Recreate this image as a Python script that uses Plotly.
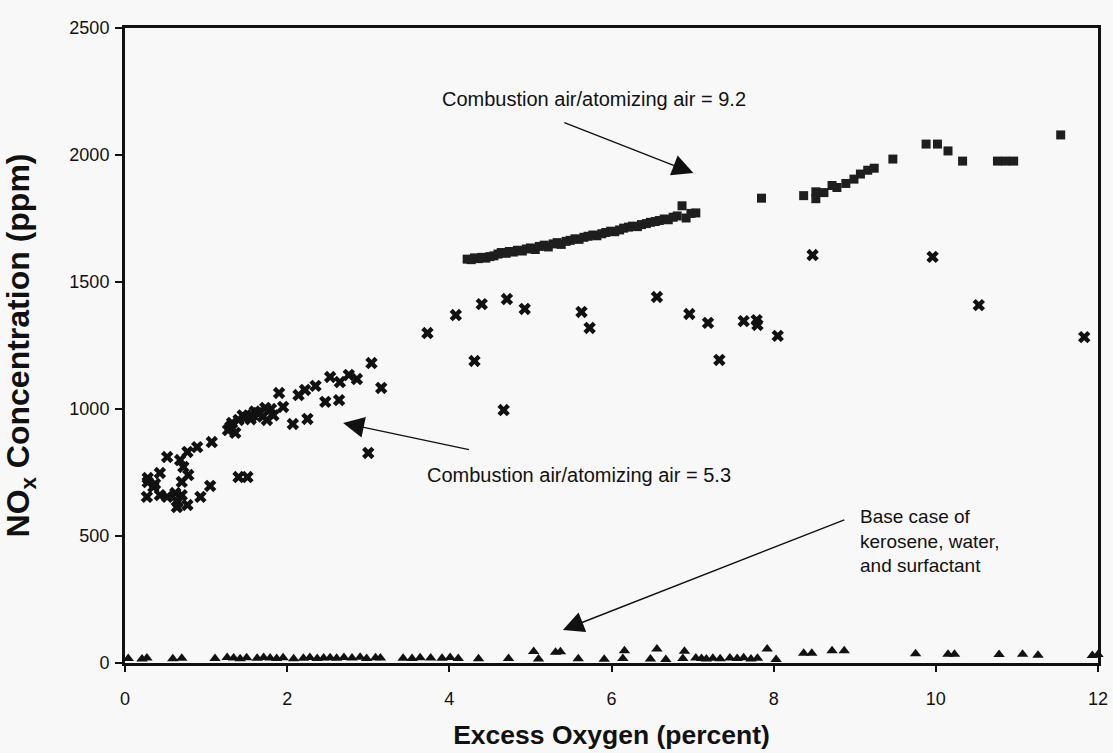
import plotly.graph_objects as go

# ---- data: combustion air / atomizing air = 9.2 (squares)
sq_x = [4.22, 4.27, 4.31, 4.36, 4.40, 4.45, 4.50, 4.55, 4.60, 4.64, 4.70, 4.74, 4.79, 4.84,
        4.90, 4.95, 5.00, 5.06, 5.11, 5.17, 5.22, 5.28, 5.33, 5.38, 5.44, 5.49, 5.55, 5.60,
        5.66, 5.71, 5.77, 5.82, 5.88, 5.93, 5.99, 6.04, 6.10, 6.15, 6.21, 6.26, 6.32, 6.37,
        6.43, 6.48, 6.54, 6.59, 6.65, 6.70, 6.76, 6.81, 6.87, 6.92, 6.98, 7.04,
        7.85, 8.37, 8.52, 8.52, 8.62, 8.72, 8.78, 8.89, 8.99, 9.07, 9.16, 9.24, 9.47,
        9.88, 10.02, 10.15, 10.33, 10.76, 10.86, 10.96, 11.54]
sq_y = [1590, 1588, 1595, 1592, 1597, 1594, 1600, 1603, 1610, 1616, 1613, 1620, 1618, 1625,
        1622, 1630, 1634, 1628, 1640, 1645, 1638, 1650, 1655, 1648, 1660, 1664, 1670, 1668,
        1676, 1680, 1685, 1682, 1690, 1695, 1700, 1698, 1705, 1712, 1716, 1720, 1718, 1726,
        1730, 1735, 1738, 1742, 1748, 1745, 1755, 1760, 1800, 1752, 1770, 1772,
        1830, 1840, 1855, 1828, 1852, 1880, 1872, 1888, 1905, 1925, 1940, 1948, 1984,
        2043, 2043, 2016, 1976, 1976, 1976, 1976, 2079]

# ---- data: combustion air / atomizing air = 5.3 (x marks)
xm_x = [0.27, 0.28, 0.28, 0.35, 0.37, 0.43, 0.43, 0.52, 0.52, 0.62, 0.64, 0.65, 0.68, 0.70,
        0.70, 0.72, 0.77, 0.77, 0.78, 0.89, 0.93, 1.05, 1.07, 1.27, 1.30, 1.32, 1.36, 1.40,
        1.40, 1.45, 1.48, 1.51, 1.55, 1.57, 1.60, 1.64, 1.70, 1.73, 1.75, 1.80, 1.83, 1.90,
        1.95, 2.07, 2.14, 2.22, 2.25, 2.35, 2.47, 2.53, 2.64, 2.65, 2.76, 2.86, 3.00, 3.04,
        3.16, 3.73, 4.08, 4.31, 4.40, 4.67, 4.71, 4.93, 5.63, 5.73, 6.56, 6.96, 7.19, 7.33,
        7.63, 7.79, 7.80, 8.05, 8.48, 9.96, 10.53, 11.83]
xm_y = [654, 728, 712, 693, 705, 748, 661, 811, 654, 669, 614, 634, 799, 713,
        661, 772, 831, 622, 740, 850, 654, 697, 870, 917, 930, 945, 906, 957,
        732, 975, 964, 732, 960, 976, 990, 984, 970, 1004, 957, 1000, 975, 1063,
        1008, 941, 1055, 1075, 961, 1091, 1028, 1126, 1035, 1106, 1134, 1118, 827, 1181,
        1083, 1299, 1370, 1189, 1413, 996, 1433, 1394, 1382, 1319, 1441, 1374, 1339, 1193,
        1346, 1350, 1331, 1288, 1606, 1599, 1409, 1283]

# ---- data: base case of kerosene, water and surfactant (triangles)
tr_x = [0.04, 0.21, 0.27, 0.59, 0.70, 1.11, 1.26, 1.34, 1.42, 1.50, 1.63, 1.71, 1.79, 1.87,
        1.95, 2.08, 2.20, 2.28, 2.37, 2.45, 2.53, 2.61, 2.70, 2.80, 2.90, 2.98, 3.09, 3.15,
        3.43, 3.54, 3.64, 3.77, 3.91, 4.01, 4.11, 4.36, 4.73, 5.04, 5.10, 5.31, 5.37, 5.59,
        5.91, 6.14, 6.16, 6.48, 6.56, 6.67, 6.88, 6.90, 7.04, 7.11, 7.17, 7.25, 7.34, 7.46,
        7.55, 7.63, 7.72, 7.80, 7.92, 8.03, 8.37, 8.47, 8.72, 8.87, 9.75, 10.15, 10.23,
        10.78, 11.07, 11.26, 11.93, 12.00]
tr_y = [18, 16, 20, 17, 19, 18, 22, 20, 17, 21, 19, 22, 20, 18,
        21, 17, 19, 22, 18, 20, 21, 19, 22, 20, 23, 18, 21, 20,
        19, 18, 21, 20, 19, 22, 18, 17, 18, 45, 16, 42, 44, 17,
        15, 18, 48, 16, 55, 14, 18, 46, 20, 18, 16, 19, 17, 20,
        18, 21, 16, 19, 55, 14, 38, 38, 48, 48, 36, 34, 34,
        33, 34, 31, 30, 33]

# ---- tick labels / axis text
x_ticks = [0, 2, 4, 6, 8, 10, 12]
y_ticks = [0, 500, 1000, 1500, 2000, 2500]
x_title = "<b>Excess Oxygen (percent)</b>"
y_title = "<b>NO<sub>x</sub> Concentration (ppm)</b>"
label_92 = "Combustion air/atomizing air = 9.2"
label_53 = "Combustion air/atomizing air = 5.3"
label_base = "Base case of<br>kerosene, water,<br>and surfactant"

FONT = "Liberation Sans, Arial, Helvetica, sans-serif"
BG = "#f8f8f8"
INK = "#111111"

fig = go.Figure()
fig.add_trace(go.Scatter(x=sq_x, y=sq_y, mode="markers", name="9.2",
                         marker=dict(symbol="square", size=9, color="#1e1e1e",
                                     line=dict(width=0))))
fig.add_trace(go.Scatter(x=xm_x, y=xm_y, mode="markers", name="5.3",
                         marker=dict(symbol="x", size=11, color=INK,
                                     line=dict(width=0))))
fig.add_trace(go.Scatter(x=tr_x, y=tr_y, mode="markers", name="base",
                         cliponaxis=False,
                         marker=dict(symbol="triangle-up", size=10, color=INK,
                                     line=dict(width=0))))

arrow = dict(showarrow=True, arrowhead=2, arrowsize=3, arrowwidth=1.4,
             arrowcolor=INK, axref="x", ayref="y", xref="x", yref="y", text="")
# 9.2 arrow
fig.add_annotation(x=7.01, y=1929, ax=5.40, ay=2130, **arrow)
# 5.3 arrow
fig.add_annotation(x=2.69, y=945, ax=4.26, ay=839, **arrow)
# base case arrow
fig.add_annotation(x=5.40, y=130, ax=8.89, ay=566, **arrow)

txt = dict(showarrow=False, xref="x", yref="y", xanchor="left",
           font=dict(family=FONT, size=20, color=INK))
fig.add_annotation(x=3.89, y=2220, text=label_92, **txt)
fig.add_annotation(x=3.70, y=740, text=label_53, **txt)
fig.add_annotation(x=9.04, y=625, yanchor="top", text=label_base, align="left",
                   showarrow=False, xref="x", yref="y", xanchor="left",
                   font=dict(family=FONT, size=19, color=INK))

# full-window figure; the page's default body margin is removed below
fig.update_layout(
    width=1113, height=753,
    margin=dict(l=125, r=15, t=28, b=90),
    paper_bgcolor=BG, plot_bgcolor=BG,
    showlegend=False,
    font=dict(family=FONT, size=18, color=INK),
)
fig.update_xaxes(range=[0, 12], tickvals=x_ticks, ticktext=[str(v) for v in x_ticks],
                 automargin=False,
                 showgrid=False, zeroline=False,
                 showline=True, linecolor=INK, linewidth=2.5, mirror=True,
                 ticks="outside", ticklen=6, tickwidth=1.5, tickcolor=INK,
                 ticklabelstandoff=12,
                 tickfont=dict(family=FONT, size=18, color=INK),
                 title=dict(text=x_title, standoff=18,
                            font=dict(family=FONT, size=26.5, color=INK)))
fig.update_yaxes(range=[0, 2500], tickvals=y_ticks, ticktext=[str(v) for v in y_ticks],
                 automargin=False,
                 showgrid=False, zeroline=False,
                 showline=True, linecolor=INK, linewidth=3, mirror=True,
                 ticks="outside", ticklen=7, tickwidth=1.5, tickcolor=INK,
                 ticklabelstandoff=2,
                 tickfont=dict(family=FONT, size=18, color=INK),
                 title=dict(text=y_title, standoff=46,
                            font=dict(family=FONT, size=32, color=INK)))

fig.write_html("out.html",
               config={"displayModeBar": False},
               post_script="document.body.style.margin='0px';"
                           "document.documentElement.style.overflow='hidden';"
                           "document.body.style.overflow='hidden';")
